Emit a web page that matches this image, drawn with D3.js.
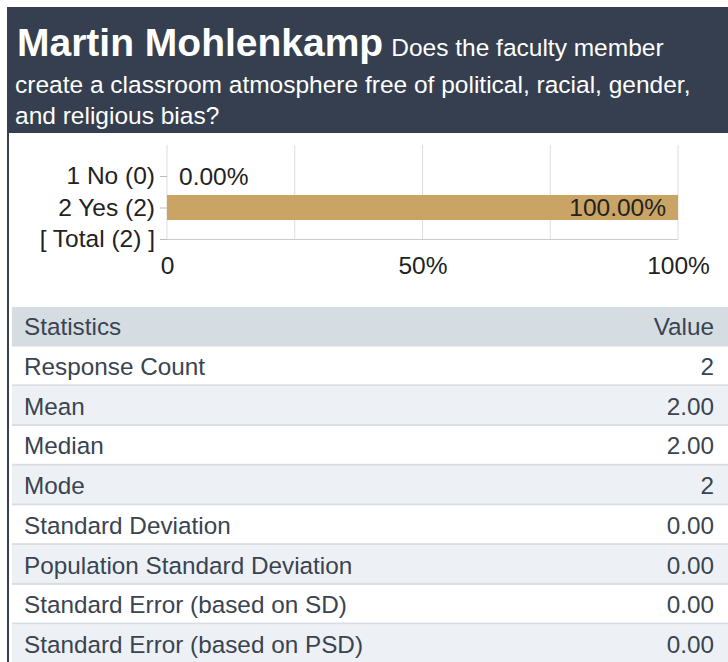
<!DOCTYPE html>
<html>
<head>
<meta charset="utf-8">
<script src="https://cdn.jsdelivr.net/npm/d3@7/dist/d3.min.js"></script>
<style>
  html, body { margin: 0; padding: 0; background: #ffffff; }
  svg { display: block; font-family: "Liberation Sans", Arial, sans-serif; }
</style>
</head>
<body>
<svg id="chart" width="728" height="662"></svg>
<script>
// ---- data ----
const titleName = "Martin Mohlenkamp";
const questionLines = [
  "Does the faculty member",
  "create a classroom atmosphere free of political, racial, gender,",
  "and religious bias?"
];
const categories = ["1 No (0)", "2 Yes (2)", "[ Total (2) ]"];
const percents = [0, 100];          // for "1 No" and "2 Yes"
const barLabels = ["0.00%", "100.00%"];
const xTicks = [0, 50, 100];
const xTickLabels = ["0", "50%", "100%"];
const gridValues = [0, 25, 50, 75, 100];
const statLabels = ["Response Count", "Mean", "Median", "Mode", "Standard Deviation",
  "Population Standard Deviation", "Standard Error (based on SD)", "Standard Error (based on PSD)"];
const statValues = ["2", "2.00", "2.00", "2", "0.00", "0.00", "0.00", "0.00"];

// ---- drawing ----
const svg = d3.select("#chart");
const dark = "#353f4f";
const FS = 24.5;
const TFS = 24.3;

// header
svg.append("rect").attr("x", 7).attr("y", 7).attr("width", 721).attr("height", 126).attr("fill", dark);
// left border
svg.append("rect").attr("x", 7).attr("y", 7).attr("width", 2).attr("height", 655).attr("fill", dark);

const t1 = svg.append("text").attr("x", 17).attr("y", 56).attr("fill", "#ffffff");
t1.append("tspan").attr("font-size", 39).attr("font-weight", "bold").text(titleName);
t1.append("tspan").attr("font-size", 24.5).attr("dx", 8).text(questionLines[0]);
svg.selectAll("text.q").data(questionLines.slice(1)).join("text")
  .attr("class", "q")
  .attr("x", 15).attr("y", (d, i) => 93 + i * 31)
  .attr("font-size", 24.5).attr("fill", "#ffffff").text(d => d);

// chart
const x = d3.scaleLinear().domain([0, 100]).range([167, 678]);
const y = d3.scalePoint().domain(categories).range([176, 239]);
const gridTop = 145, gridBottom = 239;

svg.append("g").selectAll("line").data(gridValues).join("line")
  .attr("x1", d => x(d)).attr("x2", d => x(d))
  .attr("y1", gridTop).attr("y2", gridBottom)
  .attr("stroke", "#dddddd").attr("stroke-width", 1);

// bottom line
svg.append("line").attr("x1", x(0)).attr("x2", x(100)).attr("y1", gridBottom + 0.5).attr("y2", gridBottom + 0.5)
  .attr("stroke", "#cccccc");

// y axis with ticks
const yAxis = d3.axisLeft(y).tickSize(7).tickPadding(5);
const gy = svg.append("g").attr("transform", `translate(${x(0)},0)`).call(yAxis);
gy.select(".domain").remove();
gy.selectAll(".tick line").attr("stroke", "#bbbbbb");
gy.selectAll(".tick text").attr("font-size", FS).attr("fill", "#222222")
  .attr("font-family", "'Liberation Sans', Arial, sans-serif");

// bars
const barH = 25;
const barData = categories.slice(0, 2).map((c, i) => ({ c, v: percents[i], label: barLabels[i] }));
svg.append("g").selectAll("rect").data(barData).join("rect")
  .attr("x", x(0)).attr("y", d => y(d.c) - barH / 2)
  .attr("width", d => x(d.v) - x(0)).attr("height", barH)
  .attr("fill", "#c9a464");

svg.append("g").selectAll("text").data(barData).join("text")
  .attr("x", d => d.v > 50 ? x(d.v) - 12 : x(d.v) + 12)
  .attr("y", d => y(d.c))
  .attr("dy", "0.35em")
  .attr("text-anchor", d => d.v > 50 ? "end" : "start")
  .attr("font-size", FS).attr("fill", "#222222")
  .text(d => d.label);

// x tick labels
const xAxis = d3.axisBottom(x).tickValues(xTicks).tickSize(0).tickPadding(18)
  .tickFormat((d, i) => xTickLabels[i]);
const gx = svg.append("g").attr("transform", `translate(0,${gridBottom})`).call(xAxis);
gx.select(".domain").remove();
gx.selectAll(".tick text").attr("font-size", FS).attr("fill", "#222222")
  .attr("font-family", "'Liberation Sans', Arial, sans-serif");

// statistics table
const tableX = 12, tableW = 716, rowH = 39.7, tableTop = 307;
const rows = [{ l: "Statistics", v: "Value", header: true }]
  .concat(statLabels.map((l, i) => ({ l, v: statValues[i], header: false })));

const rowG = svg.append("g").selectAll("g").data(rows).join("g")
  .attr("transform", (d, i) => `translate(${tableX},${tableTop + i * rowH})`);

rowG.append("rect").attr("width", tableW).attr("height", rowH)
  .attr("fill", (d, i) => d.header ? "#d5dde2" : (i % 2 === 0 ? "#edf1f5" : "#ffffff"));
rowG.filter(d => !d.header).append("rect")
  .attr("y", rowH - 2).attr("width", tableW).attr("height", 2).attr("fill", "#d6dde3");
rowG.append("text").attr("x", 12).attr("y", rowH / 2).attr("dy", "0.35em")
  .attr("font-size", TFS).attr("fill", "#3a4451").text(d => d.l);
rowG.append("text").attr("x", 702).attr("y", rowH / 2).attr("dy", "0.35em")
  .attr("text-anchor", "end").attr("font-size", TFS).attr("fill", "#3a4451").text(d => d.v);
</script>
</body>
</html>
